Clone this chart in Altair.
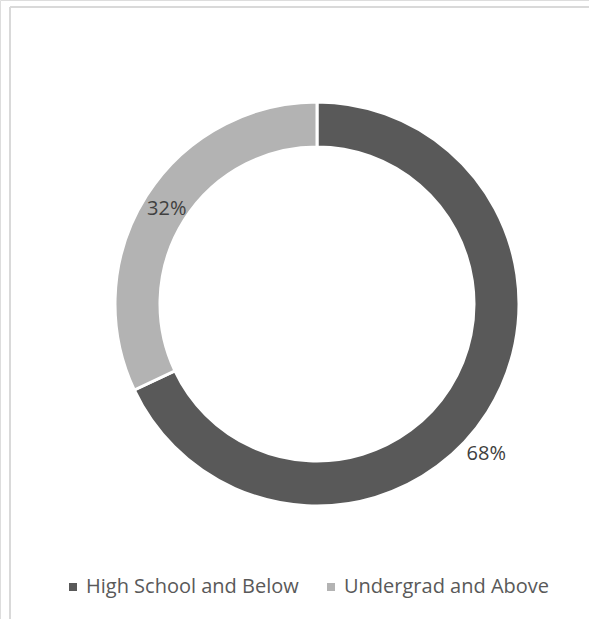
import altair as alt
import pandas as pd

categories = ["High School and Below", "Undergrad and Above"]
shares = [68, 32]
labels = ["68%", "32%"]
order = [0, 1]

df = pd.DataFrame({"category": categories, "share": shares, "label": labels, "order": order})

colors = ["#595959", "#b3b3b3"]
FONT = "Open Sans"
CX, CY = 317, 304

base = alt.Chart(df)

arc = base.mark_arc(outerRadius=202, innerRadius=157, stroke="white", strokeWidth=3).encode(
    theta=alt.Theta("share:Q", stack=True),
    order=alt.Order("order:Q"),
    color=alt.Color(
        "category:N",
        scale=alt.Scale(domain=categories, range=colors),
        legend=alt.Legend(
            title=None,
            orient="none",
            direction="horizontal",
            legendX=63,
            legendY=577,
            symbolType="square",
            symbolSize=64,
            symbolStrokeWidth=0,
            labelFont=FONT,
            labelFontSize=20,
            labelColor="#595959",
            labelOffset=3,
            columnPadding=22,
            labelLimit=400,
        ),
    ),
    x=alt.value(CX),
    y=alt.value(CY),
)

lab_base = base.transform_joinaggregate(
    total="sum(share)"
).transform_window(
    cum="sum(share)", sort=[alt.SortField("order")], frame=[None, 0]
).transform_calculate(
    mid="(datum.cum - datum.share / 2) / datum.total"
)

txt_in = lab_base.transform_filter(alt.datum.category == "Undergrad and Above").mark_text(
    radius=178, font=FONT, fontSize=20, color="#404040"
).encode(
    theta=alt.Theta("mid:Q", stack=None, scale=alt.Scale(domain=[0, 1])),
    text="label:N",
    x=alt.value(CX),
    y=alt.value(CY),
)

txt_out = lab_base.transform_filter(alt.datum.category == "High School and Below").mark_text(
    radius=226, thetaOffset=0.159, font=FONT, fontSize=20, color="#404040"
).encode(
    theta=alt.Theta("mid:Q", stack=None, scale=alt.Scale(domain=[0, 1])),
    text="label:N",
    x=alt.value(CX),
    y=alt.value(CY),
)

frame_top = alt.Chart(df).mark_rule(color="#d9d9d9", strokeWidth=2).encode(
    x=alt.value(10), x2=alt.value(589), y=alt.value(7)
)
frame_left = alt.Chart(df).mark_rule(color="#d9d9d9", strokeWidth=2).encode(
    x=alt.value(10), y=alt.value(7), y2=alt.value(619)
)

chart = alt.layer(frame_top, frame_left, arc, txt_in, txt_out).resolve_scale(
    theta="independent"
).properties(
    width=589, height=619, padding=0, autosize=alt.AutoSizeParams(type="none")
).configure_view(stroke=None).configure(background="white")

chart.save("out.html", embed_options={"renderer": "svg", "actions": False})
